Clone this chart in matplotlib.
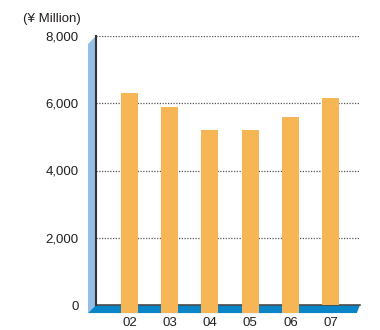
import numpy as np
import matplotlib
matplotlib.use("Agg")
import matplotlib.pyplot as plt
from matplotlib.patches import Polygon

years = ["02", "03", "04", "05", "06", "07"]
values = [6300, 5900, 5200, 5200, 5600, 6150]
yticks = [0, 2000, 4000, 6000, 8000]
unit_label = "(\u00a5 Million)"

bar_color = "#f6b656"
wall_color = "#95bee6"
floor_color = "#0a86c8"
text_color = "#231f20"

plt.rcParams["font.family"] = ["Liberation Sans", "DejaVu Sans"]

fig = plt.figure(figsize=(3.8, 3.3), dpi=100)
ax = fig.add_axes([96 / 380, 25 / 330, 264 / 380, 269 / 330])

x = np.arange(len(years))
x0, x1 = -0.83, 5.73
ymax = 8000
dx = 0.2      # depth of the 3D wall/floor in data units (x)
dy = 240      # depth in data units (y)

ax.set_xlim(x0, x1)
ax.set_ylim(0, ymax)

# gridlines
for t in yticks[1:]:
    ax.plot([x0, x1], [t, t], linestyle=(0, (1, 1.2)), color="#555555",
            linewidth=0.9, zorder=1)

# left wall
wall = Polygon([(x0 - dx, ymax - dy), (x0, ymax), (x0, 0), (x0 - dx, -dy)],
               closed=True, facecolor=wall_color, edgecolor="none",
               clip_on=False, zorder=2)
ax.add_patch(wall)

# floor
floor = Polygon([(x0, 0), (x1, 0), (x1 - dx * 0.4, -dy), (x0 - dx, -dy)],
                closed=True, facecolor=floor_color, edgecolor="none",
                clip_on=False, zorder=3)
ax.add_patch(floor)
ax.plot([x0, x1], [0, 0], color="#4a4a4a", linewidth=1.2, zorder=4,
        clip_on=False)
ax.plot([x0, x0], [0, ymax], color="#333333", linewidth=1.5, zorder=4,
        clip_on=False)

# bars (the last one sits on the floor line)
bottoms = [-dy] * (len(values) - 1) + [0]
heights = [v - b for v, b in zip(values, bottoms)]
ax.bar(x, heights, bottom=bottoms, width=0.42, color=bar_color,
       zorder=5, clip_on=False)

for s in ax.spines.values():
    s.set_visible(False)
ax.set_yticks(yticks)
ax.set_yticklabels([f"{t:,}" for t in yticks])
ax.set_xticks(x)
ax.set_xticklabels(years)
ax.tick_params(axis="y", length=0, pad=12.5, labelsize=9.5, labelcolor=text_color)
ax.tick_params(axis="x", length=0, pad=9, labelsize=9.5, labelcolor=text_color)

fig.text(81 / 380, 1 - 19 / 330, unit_label, ha="right", va="center",
         fontsize=9.5, color=text_color)

fig.savefig("out.png", dpi=100)
